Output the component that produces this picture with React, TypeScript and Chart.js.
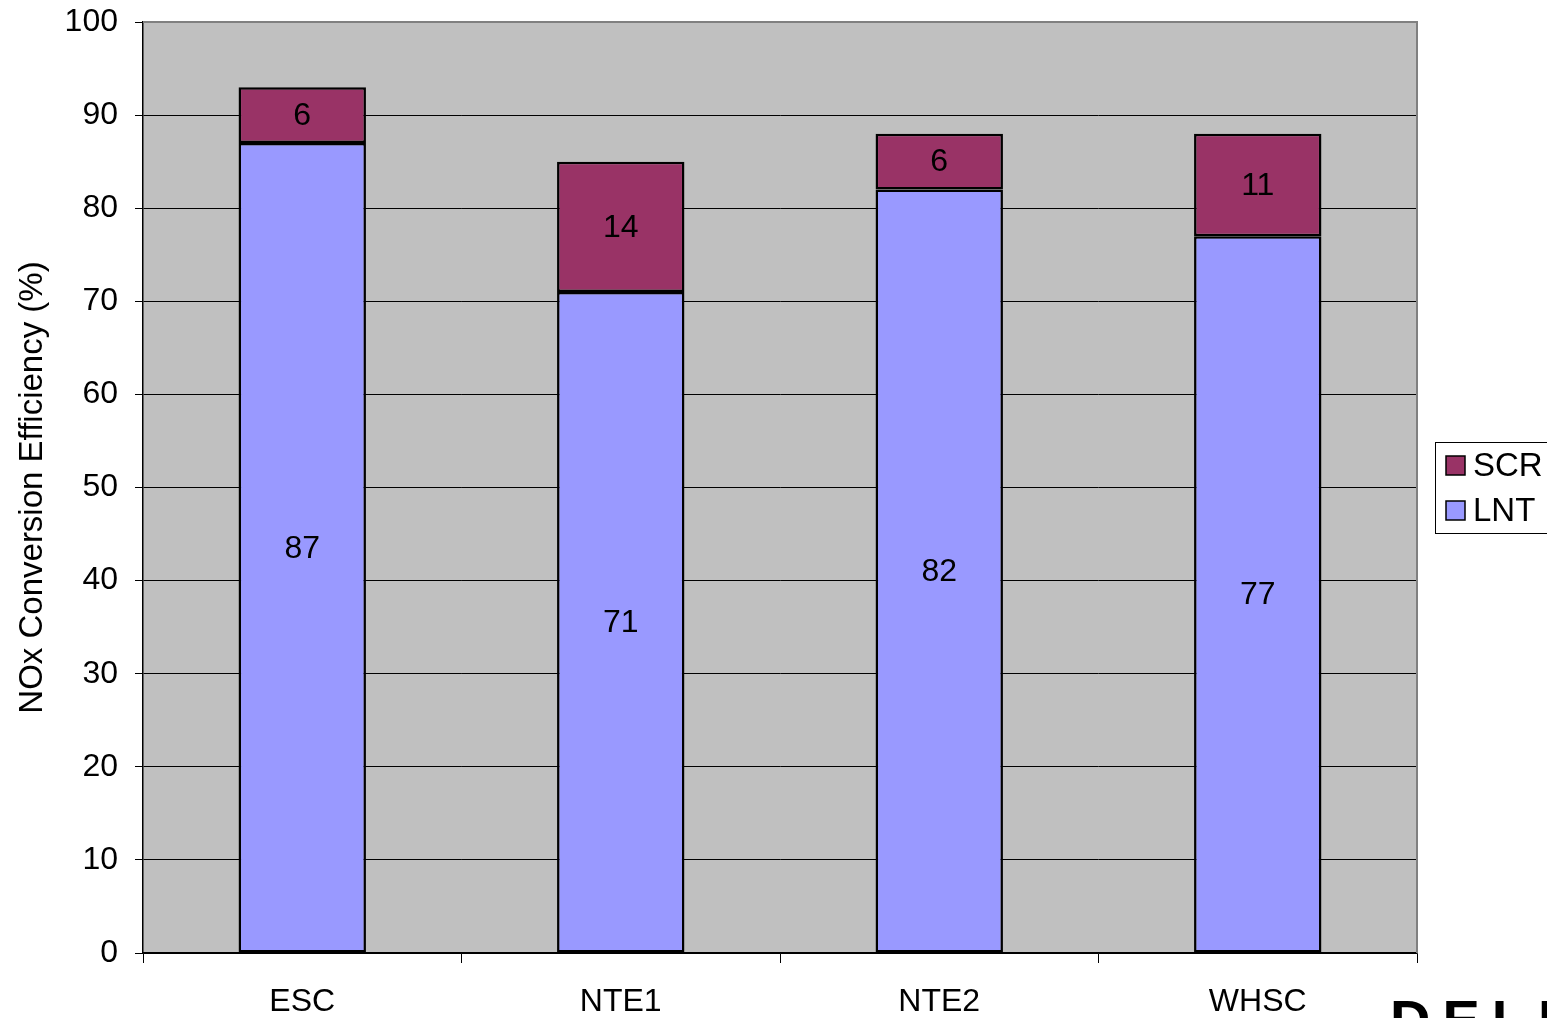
import React, { useEffect, useRef } from "react";
import { Chart, registerables } from "chart.js";

Chart.register(...registerables);

const categories = ["ESC", "NTE1", "NTE2", "WHSC"];
const lntValues = [87, 71, 82, 77];
const scrValues = [6, 14, 6, 11];
const yTicks = [0, 10, 20, 30, 40, 50, 60, 70, 80, 90, 100];

const FONT = "'Liberation Sans', Arial, sans-serif";
const LNT_COLOR = "#9999FF";
const SCR_COLOR = "#993366";

const decorPlugin = {
  id: "decor",
  beforeDatasetsDraw(chart: any) {
    const { ctx, chartArea } = chart;
    ctx.save();
    ctx.strokeStyle = "#808080";
    ctx.lineWidth = 2;
    ctx.beginPath();
    ctx.moveTo(chartArea.left, chartArea.top);
    ctx.lineTo(chartArea.right, chartArea.top);
    ctx.lineTo(chartArea.right, chartArea.bottom);
    ctx.stroke();
    ctx.restore();
  },
  afterDatasetsDraw(chart: any) {
    const { ctx } = chart;
    ctx.save();
    ctx.font = `32px ${FONT}`;
    ctx.fillStyle = "#000";
    ctx.textAlign = "center";
    ctx.textBaseline = "middle";
    chart.data.datasets.forEach((ds: any, di: number) => {
      const meta = chart.getDatasetMeta(di);
      meta.data.forEach((bar: any, i: number) => {
        const v = ds.data[i];
        const y = (bar.y + bar.base) / 2;
        ctx.fillText(String(v), bar.x, y + 1);
      });
    });
    ctx.restore();
  },
  afterDraw(chart: any) {
    const { ctx, chartArea } = chart;
    ctx.save();
    // axis title
    ctx.font = `33px ${FONT}`;
    ctx.fillStyle = "#000";
    ctx.textAlign = "center";
    ctx.textBaseline = "middle";
    ctx.translate(33, (chartArea.top + chartArea.bottom) / 2);
    ctx.rotate(-Math.PI / 2);
    ctx.fillText("NOx Conversion Efficiency (%)", 0, 0);
    ctx.restore();

    // legend
    ctx.save();
    ctx.fillStyle = "#fff";
    ctx.fillRect(1435, 442, 140, 91);
    ctx.strokeStyle = "#000";
    ctx.lineWidth = 1;
    ctx.strokeRect(1435.5, 442.5, 140, 91);
    const items = [
      { label: "SCR", color: SCR_COLOR, y: 466 },
      { label: "LNT", color: LNT_COLOR, y: 511 },
    ];
    ctx.font = `33px ${FONT}`;
    ctx.textAlign = "left";
    ctx.textBaseline = "middle";
    items.forEach((it) => {
      ctx.fillStyle = it.color;
      ctx.fillRect(1446, it.y - 10, 19, 19);
      ctx.strokeStyle = "#000";
      ctx.lineWidth = 1.5;
      ctx.strokeRect(1446, it.y - 10, 19, 19);
      ctx.fillStyle = "#000";
      ctx.fillText(it.label, 1473, it.y + 1);
    });
    ctx.restore();

    // corner logo
    ctx.save();
    ctx.font = `bold 56px ${FONT}`;
    (ctx as any).letterSpacing = "12px";
    ctx.fillStyle = "#000";
    ctx.textAlign = "left";
    ctx.textBaseline = "alphabetic";
    ctx.fillText("DELPHI", 1390, 999 + 0.716 * 56);
    ctx.restore();
  },
};

export default function App() {
  const canvasRef = useRef<HTMLCanvasElement | null>(null);

  useEffect(() => {
    document.body.style.margin = "0";
    const canvas = canvasRef.current;
    if (!canvas) return;
    const chart = new Chart(canvas, {
      type: "bar",
      data: {
        labels: categories,
        datasets: [
          {
            label: "LNT",
            data: lntValues,
            backgroundColor: LNT_COLOR,
            borderColor: "#000",
            borderWidth: 2.5,
            borderSkipped: false,
            barPercentage: 0.4,
            categoryPercentage: 1,
          },
          {
            label: "SCR",
            data: scrValues,
            backgroundColor: SCR_COLOR,
            borderColor: "#000",
            borderWidth: 2.5,
            borderSkipped: false,
            barPercentage: 0.4,
            categoryPercentage: 1,
          },
        ],
      },
      options: {
        responsive: false,
        animation: false,
        layout: { padding: { left: 0, right: 130, top: 22, bottom: 0 } },
        plugins: {
          legend: { display: false },
          tooltip: { enabled: false },
        },
        scales: {
          x: {
            stacked: true,
            grid: {
              offset: true,
              drawOnChartArea: false,
              drawTicks: true,
              tickLength: 10,
              color: "#000",
            },
            border: { color: "#000", width: 1.5 },
            ticks: {
              color: "#000",
              font: { family: FONT, size: 32 },
              padding: 20,
            },
            afterFit: (s: any) => {
              s.height = 65;
              s.paddingLeft = 0;
              s.paddingRight = 0;
            },
          },
          y: {
            stacked: true,
            min: 0,
            max: 100,
            afterBuildTicks: (s: any) => {
              s.ticks = yTicks.map((v) => ({ value: v }));
            },
            grid: {
              color: "#000",
              lineWidth: 1,
              tickLength: 8,
            },
            border: { color: "#000", width: 1.5 },
            ticks: {
              color: "#000",
              font: { family: FONT, size: 32 },
              padding: 17,
            },
            afterFit: (s: any) => {
              s.width = 143;
              s.paddingTop = 0;
              s.paddingBottom = 0;
            },
          },
        },
      },
      plugins: [
        {
          id: "plotBg",
          beforeDraw(chart: any) {
            const { ctx, chartArea } = chart;
            ctx.save();
            ctx.fillStyle = "#C0C0C0";
            ctx.fillRect(
              chartArea.left,
              chartArea.top,
              chartArea.right - chartArea.left,
              chartArea.bottom - chartArea.top
            );
            ctx.restore();
          },
        },
        decorPlugin,
      ],
    });
    return () => chart.destroy();
  }, []);

  return (
    <div style={{ position: "absolute", left: 0, top: 0, width: 1547, height: 1018, background: "#fff" }}>
      <canvas ref={canvasRef} width={1547} height={1018} style={{ display: "block" }} />
    </div>
  );
}
